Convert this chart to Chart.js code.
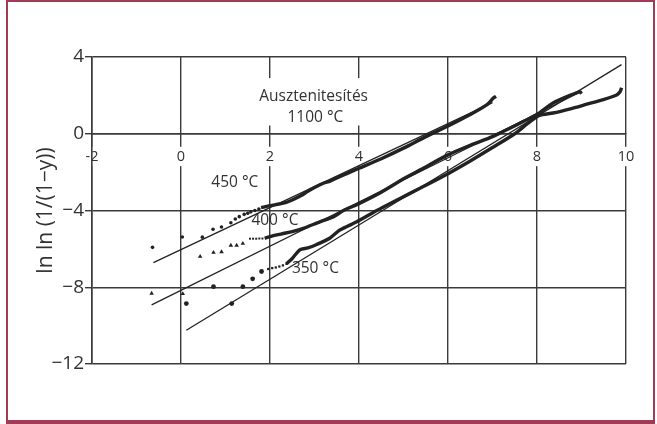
<!DOCTYPE html>
<html>
<head>
<meta charset="utf-8">
<script src="https://cdn.jsdelivr.net/npm/chart.js@4.4.1/dist/chart.umd.min.js"></script>
<style>
  html, body { margin: 0; padding: 0; background: #fff; }
  #wrap { position: relative; width: 657px; height: 424px; background: #fff; }
  #frame { position: absolute; left: 6px; top: 0; width: 649px; height: 424px;
           box-sizing: border-box; border: 2px solid #a33a55; border-bottom-width: 4px;
           pointer-events: none; }
  canvas { position: absolute; left: 0; top: 0; }
</style>
</head>
<body>
<div id="wrap">
  <canvas id="c" width="657" height="424"></canvas>
  <div id="frame"></div>
</div>
<script>
// Axis ticks
const xTicks = [-2, 0, 2, 4, 6, 8, 10];
const yTicks = [-12, -8, -4, 0, 4];

// Isolated early measurements (x, ln ln(1/(1-y)))
const pts450 = [[-0.64,-5.92],[0.03,-5.38],[0.48,-5.39],[0.72,-4.98],[0.91,-4.86],[1.12,-4.64],
                [1.22,-4.44],[1.31,-4.32],[1.42,-4.2],[1.5,-4.14],[1.57,-4.07],[1.66,-4.0],[1.75,-3.92]];
const pts400 = [[-0.66,-8.32],[0.04,-8.34],[0.43,-6.4],[0.73,-6.19],[0.91,-6.16],[1.12,-5.82],
                [1.25,-5.82],[1.39,-5.72]];
const run400 = [[1.55,-5.47],[1.62,-5.47],[1.69,-5.47],[1.76,-5.46],[1.83,-5.46]];
const pts350 = [[0.12,-8.85],[0.73,-7.97],[1.14,-8.85],[1.39,-7.97],[1.61,-7.56],[1.81,-7.18]];
const run350 = [[1.96,-7.05],[2.05,-7.0],[2.13,-6.97],[2.21,-6.92],[2.29,-6.86],[2.37,-6.78]];

// Continuous measurement traces
const curve450 = [[1.8,-3.85],[2.0,-3.75],[2.3,-3.62],[2.5,-3.45],[2.7,-3.22],[2.85,-3.0],[3.0,-2.8],
                  [3.2,-2.58],[3.35,-2.47],[3.5,-2.3],[3.75,-2.05],[4.0,-1.8],[4.5,-1.3],[5.0,-0.75],
                  [5.5,-0.15],[6.0,0.4],[6.5,1.0],[6.87,1.5],[7.02,1.86],[7.08,1.95]];
const curve400 = [[1.88,-5.45],[2.1,-5.3],[2.3,-5.2],[2.5,-5.1],[2.75,-4.93],[3.12,-4.59],[3.42,-4.34],
                  [3.65,-4.0],[3.95,-3.7],[4.5,-3.05],[5.0,-2.35],[5.4,-1.85],[6.0,-1.1],[6.5,-0.6],
                  [7.0,-0.15],[7.4,0.3],[7.7,0.65],[8.0,1.0],[8.36,1.6],[8.74,2.0],[8.97,2.18],[9.0,2.08]];
const curve350 = [[2.37,-6.78],[2.5,-6.5],[2.67,-6.05],[2.85,-5.95],[3.05,-5.77],[3.35,-5.43],[3.57,-5.02],
                  [3.95,-4.59],[4.4,-4.0],[4.9,-3.4],[5.37,-2.84],[6.0,-2.08],[6.5,-1.42],[7.0,-0.72],
                  [7.5,0.0],[7.8,0.55],[8.05,0.95],[8.36,1.08],[8.75,1.3],[9.12,1.54],[9.49,1.78],
                  [9.79,2.02],[9.87,2.2],[9.9,2.4]];

// Fitted straight lines (end points)
const fit450 = [[-0.62,-6.72],[7.0,1.62]];
const fit400 = [[-0.66,-8.92],[9.0,2.2]];
const fit350 = [[0.12,-10.24],[9.9,3.6]];

const ink = '#222';
const txt = '#323232';
const fam = '"Open Sans", "DejaVu Sans", sans-serif';
const xy = a => a.map(p => ({x: p[0], y: p[1]}));

const pointSet = (data, style, r) => ({
  data: xy(data), showLine: false, pointStyle: style, pointRadius: r,
  pointBackgroundColor: ink, pointBorderColor: ink, pointBorderWidth: 0
});
const trace = (data, w) => ({
  data: xy(data), showLine: true, borderColor: ink, borderWidth: w, pointRadius: 0,
  tension: 0.25, fill: false, clip: false
});

// Labels drawn inside the plot in data coordinates
const notes = [
  {text: 'Ausztenitesítés', x: 2.98, y: 1.93},
  {text: '1100 °C', x: 3.02, y: 0.82},
  {text: '450 °C', x: 1.21, y: -2.52},
  {text: '400 °C', x: 2.11, y: -4.51},
  {text: '350 °C', x: 3.02, y: -7.04}
];
const noteBox = {x0: 1.66, x1: 4.29, y0: 2.9, y1: 0.43};

const notesPlugin = {
  id: 'notes',
  beforeDatasetsDraw(chart) {
    const {ctx, scales: {x, y}} = chart;
    ctx.save();
    ctx.fillStyle = '#fff';
    ctx.fillRect(x.getPixelForValue(noteBox.x0), y.getPixelForValue(noteBox.y0),
                 x.getPixelForValue(noteBox.x1) - x.getPixelForValue(noteBox.x0),
                 y.getPixelForValue(noteBox.y1) - y.getPixelForValue(noteBox.y0));
    ctx.fillStyle = txt;
    ctx.font = '15.5px ' + fam;
    ctx.textAlign = 'center';
    ctx.textBaseline = 'middle';
    notes.forEach(n => ctx.fillText(n.text, x.getPixelForValue(n.x), y.getPixelForValue(n.y)));
    ctx.restore();
  }
};

new Chart(document.getElementById('c'), {
  type: 'scatter',
  data: {
    datasets: [
      pointSet(pts450, 'circle', 1.8),
      pointSet(pts400, 'triangle', 2.6),
      pointSet(run400, 'rect', 1.4),
      pointSet(pts350, 'circle', 2.4),
      pointSet(run350, 'rect', 1.6),
      trace(curve450, 3.4),
      trace(curve400, 3.4),
      trace(curve350, 3.4),
      trace(fit450, 1.3),
      trace(fit400, 1.3),
      trace(fit350, 1.3)
    ]
  },
  options: {
    responsive: false,
    animation: false,
    layout: {padding: {left: 0, right: 31, top: 57, bottom: 60}},
    plugins: {legend: {display: false}, tooltip: {enabled: false}},
    scales: {
      x: {
        type: 'linear', min: -2, max: 10, position: {y: 0},
        afterBuildTicks: s => { s.ticks = xTicks.map(v => ({value: v})); },
        ticks: {
          color: txt, font: {family: fam, size: 14.5}, padding: 14, maxRotation: 0,
          showLabelBackdrop: true, backdropColor: '#fff',
          backdropPadding: {top: 1, bottom: 1, left: 2, right: 2},
          callback: v => String(v)
        },
        grid: {color: '#3a3a3a', lineWidth: 1.4, drawTicks: false},
        border: {color: '#3a3a3a', width: 1.6}
      },
      y: {
        type: 'linear', min: -12, max: 4,
        afterBuildTicks: s => { s.ticks = yTicks.map(v => ({value: v})); },
        afterFit: s => { s.width = 92; },
        ticks: {
          color: txt, font: {family: fam, size: 19}, padding: 1,
          callback: v => String(v).replace('-', '\u2212')
        },
        grid: {color: '#3a3a3a', lineWidth: 1.4, drawTicks: true, tickLength: 7},
        border: {color: '#3a3a3a', width: 1.6},
        title: {
          display: true, text: 'ln ln (1/(1\u2212y))', color: txt,
          font: {family: fam, size: 21}, padding: {top: 33, bottom: 0}
        }
      }
    }
  },
  plugins: [notesPlugin]
});
</script>
</body>
</html>
